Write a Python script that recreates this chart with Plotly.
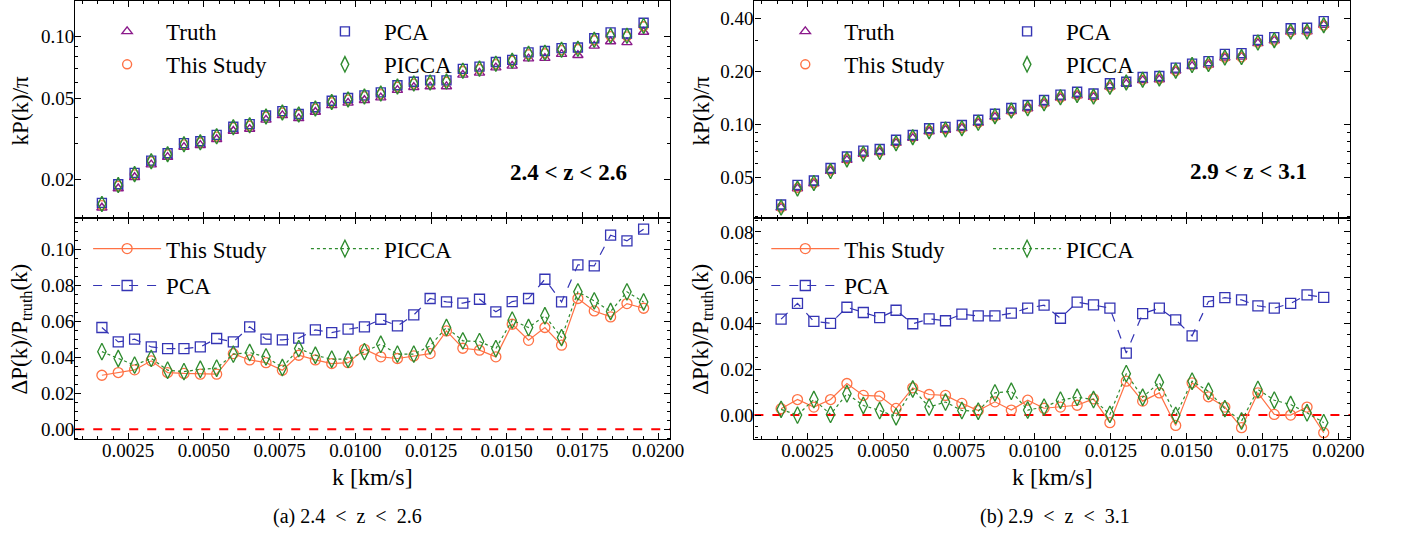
import plotly.graph_objects as go

# ---------------- data ----------------
k = [0.00163, 0.00217, 0.00271, 0.00326, 0.00380, 0.00434, 0.00488, 0.00542,
     0.00597, 0.00651, 0.00705, 0.00759, 0.00813, 0.00868, 0.00922, 0.00976,
     0.01030, 0.01084, 0.01139, 0.01193, 0.01247, 0.01301, 0.01355, 0.01410,
     0.01464, 0.01518, 0.01572, 0.01626, 0.01681, 0.01735, 0.01789, 0.01843,
     0.01897, 0.01952]

# 2.4 < z < 2.6 : kP(k)/pi
truth_a = [0.01452, 0.01805, 0.02049, 0.02363, 0.02573, 0.02881, 0.02942, 0.03146,
           0.03454, 0.03530, 0.03915, 0.04117, 0.03985, 0.04279, 0.04613, 0.04745,
           0.04886, 0.05034, 0.05476, 0.05663, 0.05702, 0.05711, 0.06507, 0.06658,
           0.07066, 0.07200, 0.07821, 0.07861, 0.08223, 0.08120, 0.09025, 0.09489,
           0.09393, 0.1056]
study_a = [0.01496, 0.01862, 0.02117, 0.02453, 0.02654, 0.02970, 0.03032, 0.03242,
           0.03599, 0.03666, 0.04060, 0.04252, 0.04149, 0.04444, 0.04781, 0.04921,
           0.05103, 0.05236, 0.05691, 0.05893, 0.05941, 0.06023, 0.06800, 0.06950,
           0.07350, 0.07620, 0.08207, 0.08305, 0.08607, 0.08710, 0.09618, 0.1008,
           0.1005, 0.1127]
pca_a = [0.01534, 0.01893, 0.02151, 0.02471, 0.02688, 0.03010, 0.03076, 0.03305,
         0.03622, 0.03731, 0.04111, 0.04321, 0.04187, 0.04515, 0.04861, 0.05009,
         0.05164, 0.05342, 0.05790, 0.06023, 0.06116, 0.06115, 0.06962, 0.07139,
         0.07527, 0.07710, 0.08389, 0.08516, 0.08804, 0.08861, 0.09844, 0.1051,
         0.1038, 0.1173]
picca_a = [0.01515, 0.01876, 0.02122, 0.02456, 0.02657, 0.02973, 0.03040, 0.03253,
           0.03598, 0.03680, 0.04072, 0.04258, 0.04163, 0.04455, 0.04792, 0.04930,
           0.05097, 0.05272, 0.05704, 0.05899, 0.05966, 0.06034, 0.06826, 0.06982,
           0.07383, 0.07636, 0.08263, 0.08356, 0.08642, 0.08740, 0.09668, 0.1011,
           0.1011, 0.1131]

# 2.4 < z < 2.6 : relative difference to truth
d_study_a = [0.030, 0.0315, 0.033, 0.038, 0.0315, 0.031, 0.0306, 0.0306, 0.042, 0.0385,
             0.037, 0.0328, 0.0411, 0.0385, 0.0365, 0.037, 0.0444, 0.0402, 0.0393, 0.0407,
             0.042, 0.0546, 0.045, 0.0439, 0.0402, 0.0583, 0.0494, 0.0565, 0.0467, 0.0726,
             0.0657, 0.0624, 0.0698, 0.0672]
d_pca_a = [0.0565, 0.0485, 0.050, 0.0457, 0.0448, 0.0448, 0.0457, 0.0504, 0.0485, 0.0569,
           0.050, 0.0496, 0.0506, 0.0552, 0.0537, 0.0556, 0.0569, 0.0611, 0.0574, 0.0635,
           0.0726, 0.0707, 0.070, 0.0722, 0.0652, 0.0709, 0.0726, 0.0833, 0.0707, 0.0913,
           0.0907, 0.1078, 0.1046, 0.1111]
d_picca_a = [0.0431, 0.0393, 0.0356, 0.0394, 0.0328, 0.032, 0.0333, 0.0339, 0.0417, 0.0426,
             0.0402, 0.0343, 0.0448, 0.0411, 0.0389, 0.0389, 0.0431, 0.0472, 0.0417, 0.0417,
             0.0463, 0.0565, 0.0491, 0.0487, 0.0448, 0.0606, 0.0565, 0.063, 0.0509, 0.0763,
             0.0713, 0.0654, 0.0763, 0.0707]

# 2.9 < z < 3.1 : kP(k)/pi
truth_b = [0.03379, 0.04336, 0.04632, 0.05449, 0.06287, 0.06804, 0.06963, 0.07845,
           0.08382, 0.09132, 0.09316, 0.09511, 0.1020, 0.1103, 0.1187, 0.1232,
           0.1314, 0.1417, 0.1460, 0.1429, 0.1638, 0.1701, 0.1780, 0.1799,
           0.2017, 0.2140, 0.2178, 0.2390, 0.2416, 0.2881, 0.2986, 0.3346,
           0.3358, 0.3664]
study_b = [0.03388, 0.04365, 0.04648, 0.05486, 0.06374, 0.06863, 0.07021, 0.07868,
           0.08482, 0.09214, 0.09396, 0.09560, 0.1022, 0.1109, 0.1190, 0.1240,
           0.1318, 0.1422, 0.1466, 0.1439, 0.1633, 0.1726, 0.1791, 0.1816,
           0.2008, 0.2170, 0.2195, 0.2398, 0.2403, 0.2909, 0.2987, 0.3346,
           0.3370, 0.3636]
pca_b = [0.03521, 0.04548, 0.04821, 0.05668, 0.06583, 0.07109, 0.07260, 0.08204,
         0.08716, 0.09516, 0.09700, 0.09930, 0.1064, 0.1151, 0.1240, 0.1290,
         0.1377, 0.1477, 0.1532, 0.1498, 0.1714, 0.1747, 0.1859, 0.1883,
         0.2101, 0.2214, 0.2286, 0.2513, 0.2538, 0.3018, 0.3125, 0.3509,
         0.3534, 0.3852]
picca_b = [0.03387, 0.04336, 0.04663, 0.05451, 0.06345, 0.06833, 0.06977, 0.07840,
           0.08478, 0.09164, 0.09369, 0.09530, 0.1022, 0.1114, 0.1199, 0.1235,
           0.1319, 0.1426, 0.1471, 0.1439, 0.1638, 0.1732, 0.1794, 0.1825,
           0.2017, 0.2172, 0.2201, 0.2397, 0.2410, 0.2913, 0.3005, 0.3361,
           0.3361, 0.3652]

# 2.9 < z < 3.1 : relative difference to truth
d_study_b = [0.0028, 0.0068, 0.0035, 0.0068, 0.0138, 0.0086, 0.0083, 0.0029, 0.0119, 0.009,
             0.0086, 0.0051, 0.002, 0.0058, 0.0022, 0.0065, 0.003, 0.0035, 0.0043, 0.0071,
             -0.0033, 0.0148, 0.0061, 0.0097, -0.0045, 0.0141, 0.008, 0.0035, -0.0055, 0.0097,
             0.0003, 0.0, 0.0035, -0.0077]
d_pca_b = [0.0419, 0.0488, 0.0409, 0.0401, 0.0471, 0.0448, 0.0426, 0.0458, 0.0399, 0.0420,
           0.0412, 0.0441, 0.0433, 0.0433, 0.0445, 0.0467, 0.048, 0.0423, 0.0493, 0.0481,
           0.0467, 0.0271, 0.0443, 0.0467, 0.0416, 0.0346, 0.0496, 0.0513, 0.0503, 0.0477,
           0.0467, 0.0488, 0.0525, 0.0514]
d_picca_b = [0.0025, 0.0, 0.0068, 0.0003, 0.0093, 0.0042, 0.002, -0.0007, 0.0114, 0.0035,
             0.0057, 0.002, 0.0017, 0.0097, 0.0104, 0.0022, 0.0035, 0.0065, 0.0078, 0.0068,
             0.0003, 0.0181, 0.0078, 0.0143, -0.0001, 0.0148, 0.0104, 0.0028, -0.0026, 0.0112,
             0.0065, 0.0046, 0.001, -0.0033]

x_ticks = [0.0025, 0.0050, 0.0075, 0.0100, 0.0125, 0.0150, 0.0175, 0.0200]
top_ticks_a = [0.02, 0.05, 0.10]
top_ticks_b = [0.05, 0.10, 0.20, 0.40]

# ---------------- style ----------------
SERIF = "Liberation Serif, Times New Roman, serif"
C_TRUTH = "#8b1a8b"
C_STUDY = "#ff7245"
C_PCA = "#3434b4"
C_PICCA = "#2e8b2e"

W, H = 1406, 538


def px_x(p):
    return p / W


def px_y(p):
    return 1 - p / H


x_left = [px_x(76), px_x(677)]
x_right = [px_x(762), px_x(1364)]
y_top = [px_y(218), 1.0]
y_bot = [px_y(440), px_y(218)]

fig = go.Figure()

top_style = [
    ("Truth", "triangle-up-open", C_TRUTH, 9),
    ("This Study", "circle-open", C_STUDY, 9),
    ("PCA", "square-open", C_PCA, 9),
    ("PICCA", "diamond-tall-open", C_PICCA, 11),
]
bot_style = [
    ("This Study", "circle-open", C_STUDY, "solid", 10),
    ("PCA", "square-open", C_PCA, "dash", 10),
    ("PICCA", "diamond-tall-open", C_PICCA, "dot", 12),
]

panels = [
    ("x", "y", "x3", "y3", [truth_a, study_a, pca_a, picca_a],
     [d_study_a, d_pca_a, d_picca_a], ("legend", "legend2"), ("legend3", "legend4")),
    ("x2", "y2", "x4", "y4", [truth_b, study_b, pca_b, picca_b],
     [d_study_b, d_pca_b, d_picca_b], ("legend5", "legend6"), ("legend7", "legend8")),
]

for xt, yt, xb, yb, tops, bots, leg_top, leg_bot in panels:
    for i, ((name, sym, col, size), vals) in enumerate(zip(top_style, tops)):
        fig.add_trace(go.Scatter(
            x=k, y=vals, mode="markers", name=name,
            xaxis=xt, yaxis=yt,
            marker=dict(symbol=sym, size=size, color=col, line=dict(color=col, width=1.4)),
            legend=leg_top[0] if i < 2 else leg_top[1],
            legendgroup=f"{xt}-{name}",
        ))
    for i, ((name, sym, col, dash, size), vals) in enumerate(zip(bot_style, bots)):
        fig.add_trace(go.Scatter(
            x=k, y=vals, mode="lines+markers", name=name,
            xaxis=xb, yaxis=yb,
            line=dict(color=col, width=1.2, dash=dash),
            marker=dict(symbol=sym, size=size, color=col, line=dict(color=col, width=1.3)),
            legend=leg_bot[0] if i < 2 else leg_bot[1],
            legendgroup=f"{xb}-{name}",
        ))

tickfont = dict(family=SERIF, size=19, color="black")
axis_common = dict(
    showline=True, linecolor="black", linewidth=1.3, mirror="allticks",
    ticks="inside", ticklen=6, tickwidth=1, tickcolor="black",
    showgrid=False, zeroline=False, tickfont=tickfont,
)
x_common = dict(axis_common, range=[0.00075, 0.0204], tickvals=x_ticks,
                ticktext=[f"{v:.4f}" for v in x_ticks], ticklabelstandoff=-6,
                minor=dict(ticks="inside", ticklen=3, tickcolor="black", dtick=0.0005, tick0=0))
y_common = dict(axis_common, ticklabelstandoff=-4)

minor_a = [0.03, 0.04, 0.06, 0.07, 0.08, 0.09]
minor_b = [0.03, 0.04, 0.06, 0.07, 0.08, 0.09, 0.3]

fig.update_layout(
    width=W, height=H,
    margin=dict(l=0, r=0, t=0, b=0),
    paper_bgcolor="white", plot_bgcolor="white",
    font=dict(family=SERIF, color="black"),
    xaxis=dict(x_common, domain=x_left, anchor="y", matches="x3", showticklabels=False),
    xaxis2=dict(x_common, domain=x_right, anchor="y2", matches="x4", showticklabels=False),
    xaxis3=dict(x_common, domain=x_left, anchor="y3"),
    xaxis4=dict(x_common, domain=x_right, anchor="y4"),
    yaxis=dict(y_common, domain=y_top, anchor="x", type="log",
               range=[-1.8893, -0.8244], tickvals=top_ticks_a,
               ticktext=[f"{v:.2f}" for v in top_ticks_a],
               minor=dict(ticks="inside", ticklen=3, tickcolor="black", tickvals=minor_a)),
    yaxis2=dict(y_common, domain=y_top, anchor="x2", type="log",
                range=[-1.5307, -0.3003], tickvals=top_ticks_b,
                ticktext=[f"{v:.2f}" for v in top_ticks_b],
                minor=dict(ticks="inside", ticklen=3, tickcolor="black", tickvals=minor_b)),
    yaxis3=dict(y_common, domain=y_bot, anchor="x3", range=[-0.0056, 0.1172],
                dtick=0.02, tick0=0, tickformat=".2f",
                minor=dict(ticks="inside", ticklen=3, tickcolor="black", dtick=0.005, tick0=0)),
    yaxis4=dict(y_common, domain=y_bot, anchor="x4", range=[-0.0106, 0.0860],
                dtick=0.02, tick0=0, tickformat=".2f",
                minor=dict(ticks="inside", ticklen=3, tickcolor="black", dtick=0.005, tick0=0)),
)

# legends: two columns per panel
leg_font = dict(family=SERIF, size=23, color="black")


def legend_box(xp, yp, gap):
    return dict(x=px_x(xp), y=px_y(yp), xanchor="left", yanchor="top",
                bgcolor="rgba(0,0,0,0)", borderwidth=0, font=leg_font,
                itemwidth=68, tracegroupgap=gap, orientation="v")


fig.update_layout(
    legend=legend_box(89, 9, 0), legend2=legend_box(309, 9, 0),
    legend5=legend_box(774, 9, 0), legend6=legend_box(998, 9, 0),
    legend3=legend_box(89, 227, 4), legend4=legend_box(309, 227, 4),
    legend7=legend_box(774, 227, 4), legend8=legend_box(998, 227, 4),
)

# zero reference lines
for xr, yr in (("x3", "y3"), ("x4", "y4")):
    fig.add_shape(type="line", xref=f"{xr} domain", yref=yr, x0=0, x1=1, y0=0, y1=0,
                  line=dict(color="red", width=2, dash="dash"), layer="below")


def label(xc, yc, text, size, angle=0):
    fig.add_annotation(x=px_x(xc), y=px_y(yc), xref="paper", yref="paper",
                       xanchor="center", yanchor="middle", text=text, textangle=angle,
                       showarrow=False, font=dict(family=SERIF, size=size, color="black"))


# redshift-bin labels
label(574, 172, "<b>2.4 < z < 2.6</b>", 23)
label(1261, 171, "<b>2.9 < z < 3.1</b>", 23)

# axis titles
for xc in (21, 709):
    label(xc, 110, "kP(k)/\u03c0", 23, -90)
    label(xc, 329, "\u0394P(k)/P<sub>truth</sub>(k)", 23, -90)
for xc in (376, 1063):
    label(xc, 478, "k [km/s]", 24)

# sub-figure captions
sp = "\u2002"
label(351, 517, f"(a) 2.4{sp}<{sp}z{sp}<{sp}2.6", 20)
label(1066, 517, f"(b) 2.9{sp}<{sp}z{sp}<{sp}3.1", 20)

fig.write_html("out.html")
